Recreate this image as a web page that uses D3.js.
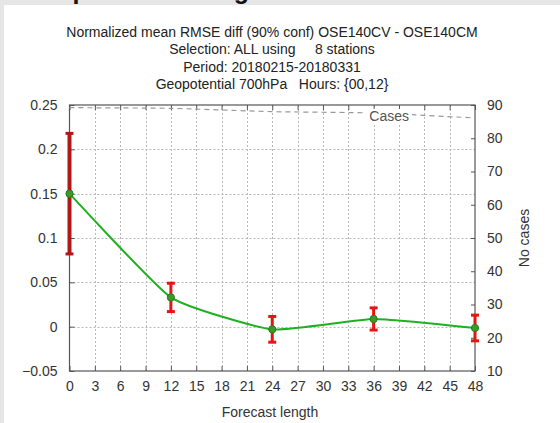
<!DOCTYPE html>
<html>
<head>
<meta charset="utf-8">
<script src="https://cdn.jsdelivr.net/npm/d3@7"></script>
<style>
  html, body { margin: 0; padding: 0; background: #e6e6e6; }
  svg { display: block; }
  text { font-family: "Liberation Sans", Arial, sans-serif; }
</style>
</head>
<body>
<svg id="chart" width="560" height="423"></svg>
<script>
// Forecast lengths (hours) and verification statistics
const leadTimes = [0, 12, 24, 36, 48];
const meanDiff = [0.15, 0.033, -0.003, 0.0087, -0.0015];
const confHalf = [0.068, 0.016, 0.0145, 0.0125, 0.0145];
const cases = [89.2, 89.0, 88.0, 87.6, 86.1];

const xTicks = d3.range(0, 49, 3);
const yLeftTicks = [-0.05, 0, 0.05, 0.1, 0.15, 0.2, 0.25];
const yRightTicks = d3.range(10, 91, 10);

const titleLines = [
  "Normalized mean RMSE diff (90% conf) OSE140CV - OSE140CM",
  "Selection: ALL using     8 stations",
  "Period: 20180215-20180331",
  "Geopotential 700hPa   Hours: {00,12}"
];

const svg = d3.select("#chart");
const W = 560, H = 423;
const fs = 14;

// page header, mostly scrolled out of view
svg.append("text")
  .attr("x", 23).attr("y", -1)
  .attr("font-size", 25).attr("font-weight", "bold").attr("fill", "#111")
  .text("Temp scores using");

// white panel
svg.append("rect").attr("x", 4).attr("y", 5).attr("width", W - 4).attr("height", H - 5).attr("fill", "#fff");

const m = { left: 69.5, right: 475, top: 105, bottom: 371 };

const x = d3.scaleLinear().domain([0, 48]).range([m.left, m.right]);
const y = d3.scaleLinear().domain([-0.05, 0.25]).range([m.bottom, m.top]);
const y2 = d3.scaleLinear().domain([10, 90]).range([m.bottom, m.top]);

// title
const tg = svg.append("g").attr("fill", "#222").attr("font-size", fs).attr("text-anchor", "middle");
titleLines.forEach((t, i) => {
  tg.append("text").attr("x", 272).attr("y", 36.5 + i * 17.6).attr("xml:space", "preserve").text(t);
});

// grid
const grid = svg.append("g").attr("stroke", "#b8b8b8").attr("stroke-width", 1).attr("stroke-dasharray", "2,2");
xTicks.filter(d => d > 0 && d < 48).forEach(d => {
  grid.append("line").attr("x1", Math.round(x(d)) + 0.5).attr("x2", Math.round(x(d)) + 0.5)
    .attr("y1", m.top).attr("y2", m.bottom);
});
yLeftTicks.filter(d => d > -0.05 && d < 0.25).forEach(d => {
  grid.append("line").attr("x1", m.left).attr("x2", m.right)
    .attr("y1", Math.round(y(d)) + 0.5).attr("y2", Math.round(y(d)) + 0.5);
});

// axes (ticks pointing inward)
const axisCol = "#555";
function styleAxis(g) {
  g.select(".domain").remove();
  g.selectAll(".tick line").attr("stroke", axisCol);
  g.selectAll(".tick text").attr("fill", "#333").attr("font-size", fs)
    .attr("font-family", "Liberation Sans, Arial, sans-serif");
}
svg.append("g").attr("transform", `translate(0,${m.bottom})`)
  .call(d3.axisBottom(x).tickValues(xTicks).tickSizeInner(-5).tickSizeOuter(0).tickPadding(10).tickFormat(d3.format("d")))
  .call(styleAxis);
svg.append("g").attr("transform", `translate(0,${m.top})`)
  .call(d3.axisTop(x).tickValues(xTicks).tickSizeInner(-5).tickSizeOuter(0).tickFormat(""))
  .call(styleAxis);
svg.append("g").attr("transform", `translate(${m.left},0)`)
  .call(d3.axisLeft(y).tickValues(yLeftTicks).tickSizeInner(-5).tickSizeOuter(0).tickPadding(12).tickFormat(d => d === 0 ? "0" : d3.format("")(+d.toFixed(2))))
  .call(styleAxis);
svg.append("g").attr("transform", `translate(${m.right},0)`)
  .call(d3.axisRight(y2).tickValues(yRightTicks).tickSizeInner(-4).tickSizeOuter(0).tickPadding(12).tickFormat(d3.format("d")))
  .call(styleAxis);

// border
svg.append("rect").attr("x", m.left).attr("y", m.top)
  .attr("width", m.right - m.left).attr("height", m.bottom - m.top)
  .attr("fill", "none").attr("stroke", axisCol).attr("stroke-width", 1.2);

// axis titles
svg.append("text").attr("x", 270).attr("y", 416.5).attr("text-anchor", "middle")
  .attr("font-size", fs).attr("fill", "#333").text("Forecast length");
svg.append("text").attr("transform", `translate(529,${(m.top + m.bottom) / 2}) rotate(-90)`)
  .attr("text-anchor", "middle").attr("font-size", fs).attr("fill", "#333").text("No cases");

// number of cases, right axis
const caseLine = d3.line().x((d, i) => x(leadTimes[i])).y(d => y2(d)).curve(d3.curveCardinal.tension(0.5));
svg.append("path").datum(cases).attr("d", caseLine)
  .attr("fill", "none").attr("stroke", "#999").attr("stroke-width", 1.2).attr("stroke-dasharray", "5,4");

// key
svg.append("rect").attr("x", 366).attr("y", 109).attr("width", 46).attr("height", 14).attr("fill", "#fff");
svg.append("text").attr("x", 409).attr("y", 121).attr("text-anchor", "end")
  .attr("font-size", fs).attr("fill", "#555").text("Cases");

// mean difference curve
const meanLine = d3.line().x((d, i) => x(leadTimes[i])).y(d => y(d)).curve(d3.curveCardinal.tension(0.55));
svg.append("path").datum(meanDiff).attr("d", meanLine)
  .attr("fill", "none").attr("stroke", "#1fb01f").attr("stroke-width", 2);

// confidence bars
const bars = svg.append("g");
leadTimes.forEach((t, i) => {
  const col = t === 0 ? "#b01818" : "#e81414";
  const cx = x(t), lo = y(meanDiff[i] - confHalf[i]), hi = y(meanDiff[i] + confHalf[i]);
  bars.append("line").attr("x1", cx).attr("x2", cx).attr("y1", lo).attr("y2", hi)
    .attr("stroke", col).attr("stroke-width", t === 0 ? 4 : 3);
  [lo, hi].forEach(v => {
    bars.append("line").attr("x1", cx - 4).attr("x2", cx + 4).attr("y1", v).attr("y2", v)
      .attr("stroke", col).attr("stroke-width", 3);
  });
});

// points
svg.append("g").selectAll("circle").data(meanDiff).join("circle")
  .attr("cx", (d, i) => x(leadTimes[i])).attr("cy", d => y(d)).attr("r", 3.6)
  .attr("fill", "#3a9a2a").attr("stroke", "#2a7a1a").attr("stroke-width", 1);
</script>
</body>
</html>
